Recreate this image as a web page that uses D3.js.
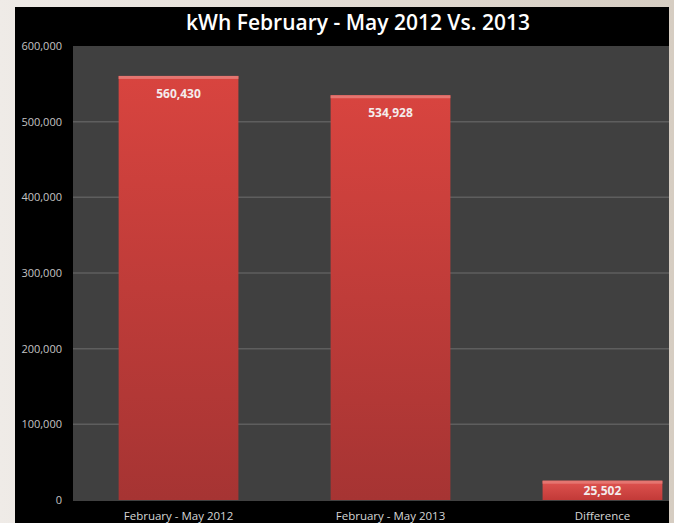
<!DOCTYPE html>
<html>
<head>
<meta charset="utf-8">
<script src="https://cdn.jsdelivr.net/npm/d3@7"></script>
<style>
  html, body { margin: 0; padding: 0; background: #e6e1db; }
  svg { display: block; }
</style>
</head>
<body>
<svg id="chart" width="674" height="523"></svg>
<script>
// --- data ---
const categories = ["February - May 2012", "February - May 2013", "Difference"];
const kwhValues = [560430, 534928, 25502];
const yTicks = [0, 100000, 200000, 300000, 400000, 500000, 600000];
const chartTitle = "kWh February - May 2012 Vs. 2013";

const data = categories.map((c, i) => ({cat: c, val: kwhValues[i]}));

// --- frame ---
const svg = d3.select("#chart");
const W = 674, H = 523;
const font = "'Open Sans', 'Liberation Sans', sans-serif";

const defs = svg.append("defs");
const bg = defs.append("linearGradient").attr("id", "bg")
  .attr("x1", 0).attr("y1", 0).attr("x2", 1).attr("y2", 0);
bg.append("stop").attr("offset", "0%").attr("stop-color", "#efebe7");
bg.append("stop").attr("offset", "100%").attr("stop-color", "#d6cdc2");

const barGrad = defs.append("linearGradient").attr("id", "barGrad")
  .attr("x1", 0).attr("y1", 0).attr("x2", 0).attr("y2", 1);
barGrad.append("stop").attr("offset", "0%").attr("stop-color", "#d8443f");
barGrad.append("stop").attr("offset", "100%").attr("stop-color", "#a63433");

const barGradSmall = defs.append("linearGradient").attr("id", "barGradSmall")
  .attr("x1", 0).attr("y1", 0).attr("x2", 0).attr("y2", 1);
barGradSmall.append("stop").attr("offset", "0%").attr("stop-color", "#e05450");
barGradSmall.append("stop").attr("offset", "100%").attr("stop-color", "#c23a38");

defs.append("clipPath").attr("id", "panelClip")
  .append("rect").attr("x", 15).attr("y", 7).attr("width", 654).attr("height", H - 7);

svg.append("rect").attr("width", W).attr("height", H).attr("fill", "url(#bg)");

const panel = svg.append("g").attr("clip-path", "url(#panelClip)");
panel.append("rect").attr("x", 15).attr("y", 7).attr("width", 654).attr("height", H)
  .attr("fill", "#000");

// --- plot area ---
const margin = {top: 46, left: 73, bottom: 500};
const x = d3.scaleBand()
  .domain(categories)
  .range([72, 709])
  .paddingInner(0.435)
  .paddingOuter(0.22);

const y = d3.scaleLinear()
  .domain([0, 600000])
  .range([margin.bottom, margin.top]);

panel.append("rect")
  .attr("x", margin.left).attr("y", margin.top)
  .attr("width", 700).attr("height", margin.bottom - margin.top + 1)
  .attr("fill", "#404040");

// gridlines
panel.append("g")
  .selectAll("line")
  .data(yTicks.filter(d => d > 0 && d < 600000))
  .enter().append("line")
    .attr("x1", margin.left).attr("x2", 700)
    .attr("y1", d => y(d)).attr("y2", d => y(d))
    .attr("stroke", "#5e5e5e").attr("stroke-width", 1.5);

// y axis
const yAxis = panel.append("g")
  .attr("transform", "translate(62,0)")
  .call(d3.axisLeft(y).tickValues(yTicks).tickFormat(d3.format(",")).tickSize(0).tickPadding(0));
yAxis.select(".domain").remove();
yAxis.selectAll("text")
  .style("font-family", font)
  .style("font-size", "11px")
  .style("fill", "#c4c4c4");

// x axis
const xAxis = panel.append("g")
  .attr("transform", `translate(0,${margin.bottom + 2})`)
  .call(d3.axisBottom(x).tickSize(0).tickPadding(10));
xAxis.select(".domain").remove();
xAxis.selectAll("text")
  .style("font-family", font)
  .style("font-size", "11.5px")
  .style("fill", "#d6d6d6");

// bars
panel.selectAll("rect.bar")
  .data(data)
  .enter().append("rect")
    .attr("class", "bar")
    .attr("x", d => x(d.cat))
    .attr("y", d => y(d.val))
    .attr("width", x.bandwidth())
    .attr("height", d => y(0) - y(d.val))
    .attr("fill", d => d.val < 100000 ? "url(#barGradSmall)" : "url(#barGrad)");

// top highlight
panel.selectAll("rect.hl")
  .data(data)
  .enter().append("rect")
    .attr("class", "hl")
    .attr("x", d => x(d.cat))
    .attr("y", d => y(d.val))
    .attr("width", x.bandwidth())
    .attr("height", 3)
    .attr("fill", "#e57570");

// value labels
panel.selectAll("text.value")
  .data(data)
  .enter().append("text")
    .attr("class", "value")
    .attr("x", d => x(d.cat) + x.bandwidth() / 2)
    .attr("y", d => y(d.val) + (d.val < 100000 ? 14 : 22))
    .attr("text-anchor", "middle")
    .text(d => d3.format(",")(d.val))
    .style("font-family", font)
    .style("font-size", "12px")
    .style("font-weight", "bold")
    .style("fill", "#f4ecec");

// title
panel.append("text")
  .attr("x", 358).attr("y", 30)
  .attr("text-anchor", "middle")
  .text(chartTitle)
  .style("font-family", font)
  .style("font-size", "21px")
  .style("font-weight", "600")
  .style("fill", "#ffffff");
</script>
</body>
</html>
